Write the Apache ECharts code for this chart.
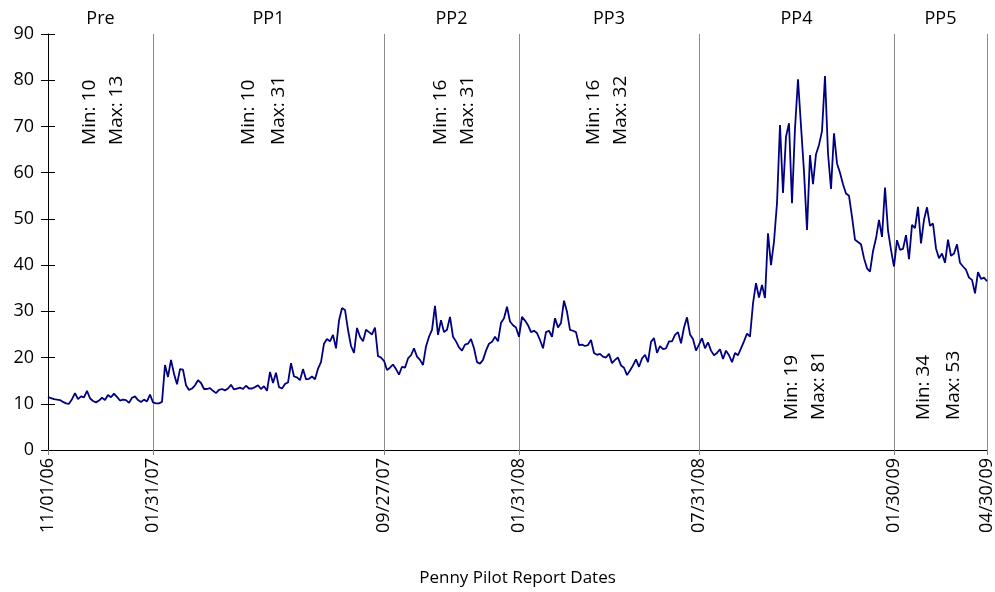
<!DOCTYPE html>
<html><head><meta charset="utf-8">
<script src="https://cdn.jsdelivr.net/npm/echarts@6/dist/echarts.min.js"></script>
<style>html,body{margin:0;padding:0;background:#fff}#main{width:995px;height:592px}</style>
</head><body><div id="main"></div>
<script>
// ---- data ----
const periodNames = ['Pre', 'PP1', 'PP2', 'PP3', 'PP4', 'PP5'];
const preVals = [11.5,11.2,11.0,10.9,10.8,10.4,10.1,10.0,11.0,12.3,11.0,11.6,11.4,12.8,11.2,10.6,10.3,10.7,11.3,10.8,11.9,11.4,12.2,11.5,10.7,10.9,10.8,10.2,11.3,11.6,10.8,10.4,10.9,10.5,12.0,10.3];
const pp1Vals = [10.1,10.1,10.4,18.4,15.8,19.5,16.5,14.2,17.5,17.4,14.0,13.0,13.3,14.0,15.1,14.5,13.2,13.2,13.4,12.8,12.3,13.0,13.2,12.9,13.3,14.1,13.1,13.3,13.5,13.2,13.9,13.3,13.3,13.6,14.0,13.2,13.8,12.8,16.9,14.5,16.7,13.6,13.3,14.3,14.6,18.8,15.9,15.7,15.1,17.5,15.3,15.4,15.9,15.3,17.6,19.0,23.0,24.0,23.5,24.9,22.0,28.0,30.7,30.3,26.0,22.5,21.0,26.4,24.5,23.5,26.0,25.5,25.0,26.5,20.3,20.0,19.3];
const pp2Vals = [17.3,17.8,18.5,17.5,16.3,18.0,17.8,19.8,20.5,22.0,20.2,19.5,18.4,22.4,24.5,26.0,31.2,24.9,28.1,25.5,26.0,28.8,24.5,23.5,22.2,21.5,22.8,23.0,24.0,22.0,19.0,18.7,19.5,21.5,23.0,23.4,24.5,23.5,27.5,28.5,31.0,27.8,27.0,26.5,24.5];
const pp3Vals = [28.8,28.0,27.0,25.5,25.8,25.3,23.8,22.0,25.5,25.8,24.5,28.5,26.5,27.5,32.3,29.9,26.0,25.8,25.5,22.7,22.8,22.5,22.7,23.8,21.0,20.6,20.8,20.2,20.0,20.8,18.8,19.5,20.0,18.3,17.8,16.2,17.2,18.3,19.6,18.0,19.8,20.6,19.0,23.4,24.2,21.0,22.5,21.8,22.0,23.5,23.5,24.9,25.5,23.1,26.5,28.7,25.0,24.0,21.5,22.8];
const pp4Vals = [24.2,22.0,23.3,21.5,20.5,21.0,21.8,19.7,21.5,20.5,19.0,21.0,20.5,22.0,23.5,25.2,24.5,31.7,36.1,33.0,35.7,32.9,46.9,40.0,45.1,53.4,70.3,55.6,67.8,70.7,53.4,69.6,80.2,70.1,60.2,47.6,63.8,57.5,64.0,66.0,69.0,80.9,64.2,56.5,68.5,62.0,60.0,57.5,55.5,55.0,50.5,45.5,45.0,44.5,41.5,39.3,38.6,43.0,45.8,49.8,46.1,56.8,47.5,43.3,39.7];
const pp5Vals = [45.4,43.3,43.5,46.5,41.3,48.7,48.0,52.6,44.7,49.8,52.5,48.5,49.0,43.6,41.5,42.5,40.5,45.5,42.0,42.5,44.5,40.5,39.7,39.0,37.3,36.8,33.9,38.5,37.0,37.3,36.5];
const tickLabels = ['11/01/06', '01/31/07', '09/27/07', '01/31/08', '07/31/08', '01/30/09', '04/30/09'];
const minVals = [10, 10, 16, 16, 19, 34];
const maxVals = [13, 31, 31, 32, 81, 53];
const yMin = 0, yMax = 90, yStep = 10;
const xAxisTitle = 'Penny Pilot Report Dates';

// ---- layout (not data) ----
const annotMinIdx = [14, 67, 131, 182, 248, 292];
const annotMaxIdx = [23, 77, 140, 191, 257, 302];
const annotBaseVal = [66, 66, 66, 66, 6.5, 6.5];
const FONT = '"Open Sans", "Liberation Sans", sans-serif';

// ---- build ----
const periods = [preVals, pp1Vals, pp2Vals, pp3Vals, pp4Vals, pp5Vals];
const values = [].concat(...periods);
const categories = values.map((_, i) => String(i));
const bounds = [0];
let acc = 0;
periods.forEach(p => { acc += p.length; bounds.push(acc - 1); });
const labelAt = {};
bounds.forEach((b, k) => { labelAt[b] = tickLabels[k]; });
const isBound = (i) => labelAt[i] !== undefined;

const chart = echarts.init(document.getElementById('main'));
chart.setOption({
  animation: false,
  textStyle: { fontFamily: FONT },
  grid: { left: 48, right: 8, top: 34, bottom: 142, containLabel: false, outerBoundsMode: 'none' },
  xAxis: {
    type: 'category',
    data: categories,
    boundaryGap: false,
    name: xAxisTitle,
    nameLocation: 'middle',
    nameGap: 120,
    nameTextStyle: { fontSize: 17, color: '#000', fontFamily: FONT },
    axisLine: { lineStyle: { color: '#000', width: 1 } },
    axisTick: { show: true, length: 5, interval: (i) => isBound(i), lineStyle: { color: '#808080' } },
    axisLabel: { interval: (i) => isBound(i), rotate: 90, formatter: (v, i) => labelAt[i] || '', fontSize: 18, color: '#000', margin: 8, fontFamily: FONT },
    splitLine: { show: true, interval: (i) => isBound(i), lineStyle: { color: '#8c8c8c', width: 1 } }
  },
  yAxis: [{
    type: 'value', min: yMin, max: yMax, interval: yStep,
    axisLine: { show: true, lineStyle: { color: '#000' } },
    axisTick: { show: true, length: 7, lineStyle: { color: '#000' } },
    axisLabel: { fontSize: 18, color: '#000', margin: 14, fontFamily: FONT },
    splitLine: { show: false }
  }, {
    type: 'value', min: yMin, max: yMax, interval: yStep, position: 'left',
    axisLine: { show: false },
    axisTick: { show: true, inside: true, length: 7, lineStyle: { color: '#000' } },
    axisLabel: { show: false },
    splitLine: { show: false }
  }],
  series: [{
    type: 'line',
    data: values,
    showSymbol: false,
    symbol: 'none',
    lineStyle: { color: '#000080', width: 1.8 },
    markArea: {
      silent: true,
      itemStyle: { color: 'rgba(0,0,0,0)' },
      label: { show: true, position: 'top', distance: 6, fontSize: 18, color: '#000', fontFamily: FONT },
      data: periodNames.map((n, k) => [{ name: n, xAxis: bounds[k] }, { xAxis: bounds[k + 1] }])
    }
  }]
});

const gfx = [];
periodNames.forEach((n, k) => {
  [[annotMinIdx[k], 'Min: ' + minVals[k]], [annotMaxIdx[k], 'Max: ' + maxVals[k]]].forEach(([idx, txt]) => {
    const p = chart.convertToPixel({ xAxisIndex: 0, yAxisIndex: 0 }, [idx, annotBaseVal[k]]);
    gfx.push({
      type: 'text', x: p[0], y: p[1], rotation: Math.PI / 2, silent: true,
      style: { text: txt, fill: '#000', font: '19px ' + FONT, align: 'left', verticalAlign: 'middle', textAlign: 'left', textVerticalAlign: 'middle' }
    });
  });
});
chart.setOption({ graphic: gfx });
</script></body></html>
